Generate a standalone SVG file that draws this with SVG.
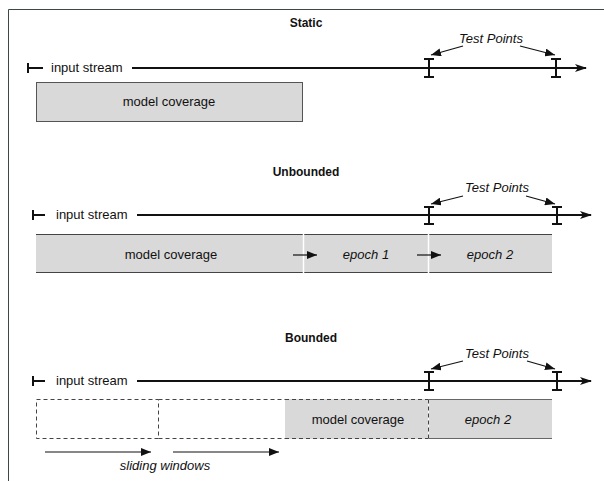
<svg xmlns="http://www.w3.org/2000/svg" width="604" height="481" viewBox="0 0 604 481">
<style>
text{font-family:"Liberation Sans",Arial,sans-serif;fill:#111}
.t{font-size:12px;font-weight:bold}
.l{font-size:13px}
.i{font-size:13px;font-style:italic}
.s{stroke:#111;stroke-width:2;fill:none}
.tp{stroke:#111;stroke-width:2;fill:none}
.a{stroke:#111;stroke-width:1.2;fill:none}
.box{fill:#d9d9d9;stroke:#555;stroke-width:1}
.band{fill:#d9d9d9;stroke:none}
.edge{stroke:#444;stroke-width:1;fill:none}
.dash{fill:none;stroke:#444;stroke-width:1;stroke-dasharray:4,3}
</style>
<defs>
<marker id="big" viewBox="0 0 12 8" refX="11" refY="4" markerWidth="12" markerHeight="8" orient="auto" markerUnits="userSpaceOnUse"><path d="M0,0 L12,4 L0,8 L3,4 z" fill="#111"/></marker>
<marker id="sm" viewBox="0 0 10 8" refX="10" refY="4" markerWidth="10" markerHeight="8" orient="auto" markerUnits="userSpaceOnUse"><path d="M0,0 L10,4 L0,8 z" fill="#111"/></marker>
</defs>
<g id="frame"><path d="M8.5,481 V9.5 H604" fill="none" stroke="#3c4747" stroke-width="1"/></g>

<g id="static">
<text class="t" x="306" y="27" text-anchor="middle">Static</text>
<g id="static-stream">
<path class="s" d="M28,63 V73 M28,68 H43"/>
<text class="l" x="51" y="72">input stream</text>
<path class="s" d="M132,68 H586" marker-end="url(#big)"/>
</g>
<g id="static-tp">
<path class="tp" d="M429,59 V77 M424,59 H434 M424,77 H434 M556,59 V77 M551,59 H561 M551,77 H561"/>
<text class="i" x="491" y="43" text-anchor="middle">Test Points</text>
</g>
<g id="static-coverage">
<rect class="box" x="36.5" y="82.5" width="266" height="39"/>
<text class="l" x="169" y="106" text-anchor="middle">model coverage</text>
</g>
</g>

<g id="unbounded">
<text class="t" x="306" y="176" text-anchor="middle">Unbounded</text>
<g id="unbounded-stream">
<path class="s" d="M33,210 V220 M33,215 H45"/>
<text class="l" x="56" y="219">input stream</text>
<path class="s" d="M137,215 H591" marker-end="url(#big)"/>
</g>
<g id="unbounded-tp">
<path class="tp" d="M429,207 V224 M424,207 H434 M424,224 H434 M557,207 V224 M552,207 H562 M552,224 H562"/>
<text class="i" x="497" y="192" text-anchor="middle">Test Points</text>
</g>
<g id="unbounded-coverage">
<rect class="band" x="36" y="234" width="267" height="39"/>
<text class="l" x="171" y="259" text-anchor="middle">model coverage</text>
</g>
<g id="unbounded-epoch1">
<rect class="band" x="304" y="234" width="124" height="39"/>
<text class="i" x="366" y="259" text-anchor="middle">epoch 1</text>
</g>
<g id="unbounded-epoch2">
<rect class="band" x="429" y="234" width="123" height="39"/>
<text class="i" x="490" y="259" text-anchor="middle">epoch 2</text>
</g>
<path class="edge" d="M36,234.5 H552 M36,272.5 H552"/>
<path d="M303.5,234 V273 M428.5,234 V273" stroke="#fff" stroke-width="1.5"/>
</g>

<g id="bounded">
<text class="t" x="311" y="342" text-anchor="middle">Bounded</text>
<g id="bounded-stream">
<path class="s" d="M33,376 V386 M33,381 H45"/>
<text class="l" x="56" y="385">input stream</text>
<path class="s" d="M137,381 H591" marker-end="url(#big)"/>
</g>
<g id="bounded-tp">
<path class="tp" d="M429,372 V390 M424,372 H434 M424,390 H434 M557,372 V390 M552,372 H562 M552,390 H562"/>
<text class="i" x="497" y="358" text-anchor="middle">Test Points</text>
</g>
<g id="bounded-window1"><rect class="dash" x="36.5" y="399.5" width="122" height="39"/></g>
<g id="bounded-window2"><path class="dash" d="M158.5,399.5 H285.5 M158.5,438.5 H285.5"/></g>
<g id="bounded-coverage">
<rect class="band" x="285" y="399" width="143" height="40"/>
<path class="dash" d="M285,399.5 H428.5 M285,438.5 H428.5"/>
<text class="l" x="358" y="424" text-anchor="middle">model coverage</text>
</g>
<g id="bounded-epoch2">
<rect class="band" x="429" y="399" width="123" height="40"/>
<path d="M429,399.5 H552 M429,438.5 H552" stroke="#666" stroke-width="1" fill="none"/>
<text class="i" x="488" y="424" text-anchor="middle">epoch 2</text>
</g>
<path class="dash" d="M428.5,399.5 V438.5"/>
<text class="i" x="165" y="470" text-anchor="middle">sliding windows</text>
</g>

<g id="connectors">
<path class="a" d="M463,46 L431,55" marker-end="url(#sm)"/>
<path class="a" d="M520,46 L555,55" marker-end="url(#sm)"/>
<path class="a" d="M463,196 L431,204" marker-end="url(#sm)"/>
<path class="a" d="M526,196 L555,204" marker-end="url(#sm)"/>
<path class="a" d="M463,361 L431,369" marker-end="url(#sm)"/>
<path class="a" d="M527,361 L555,369" marker-end="url(#sm)"/>
<path class="a" d="M293,255 H317" marker-end="url(#sm)"/>
<path class="a" d="M417,255 H441" marker-end="url(#sm)"/>
<path class="a" d="M45,452 H151" marker-end="url(#sm)"/>
<path class="a" d="M173,452 H279" marker-end="url(#sm)"/>
</g>
</svg>
